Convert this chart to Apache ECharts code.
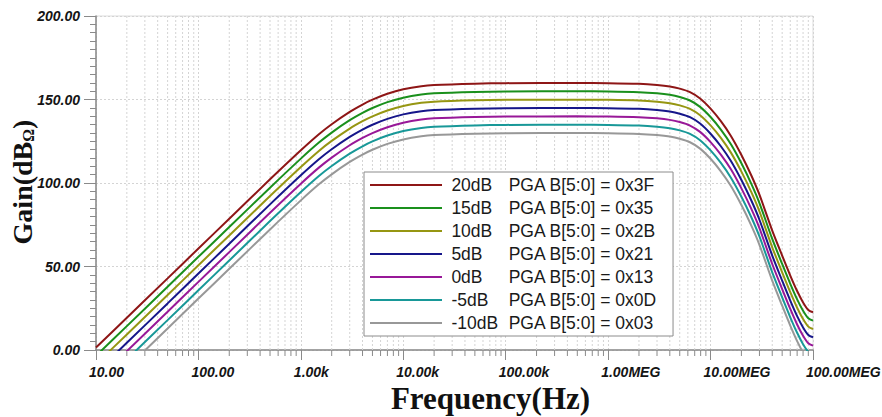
<!DOCTYPE html>
<html>
<head>
<meta charset="utf-8">
<script src="https://cdn.jsdelivr.net/npm/echarts@6/dist/echarts.min.js"></script>
<style>
  html, body { margin: 0; padding: 0; background: #ffffff; }
  #chart { width: 882px; height: 417px; }
</style>
</head>
<body>
<div id="chart"></div>
<script>
// Transimpedance gain vs. frequency for each PGA setting
const freqHz = [10, 20, 50, 100, 200, 500, 1000, 1500, 2000, 3000, 4000, 5000, 7000,
  10000, 15000, 20000, 50000, 100000, 500000, 1000000, 2000000, 3000000, 4000000,
  5000000, 6300000, 7900000, 10000000, 12600000, 15800000, 20000000, 25000000,
  30000000, 40000000, 50000000, 60000000, 70000000, 80000000, 90000000, 100000000];

const gain20dB = [1.5, 19.3, 42.9, 60.8, 78.6, 102.2, 119.6, 129.2, 135.2, 142.6, 147.0, 149.9, 153.4,
  156.1, 158.0, 158.7, 159.5, 159.8, 159.9, 159.8, 159.4, 158.7, 157.8,
  156.5, 154.4, 150.6, 144.5, 137.0, 128.2, 116.8, 104.5,
  93.0, 71.5, 56.5, 44.6, 35.3, 28.5, 24.0, 22.6];
const gain15dB = [-3.5, 14.3, 37.9, 55.8, 73.6, 97.2, 114.6, 124.2, 130.2, 137.6, 142.0, 144.9, 148.4,
  151.1, 153.0, 153.7, 154.5, 154.8, 154.9, 154.8, 154.4, 153.7, 152.8,
  151.5, 149.4, 145.6, 139.5, 132.0, 123.2, 111.8, 99.5,
  88.0, 66.5, 51.5, 39.6, 30.3, 23.5, 19.0, 17.6];
const gain10dB = [-8.5, 9.3, 32.9, 50.8, 68.6, 92.2, 109.6, 119.2, 125.2, 132.6, 137.0, 139.9, 143.4,
  146.1, 148.0, 148.7, 149.5, 149.8, 149.9, 149.8, 149.4, 148.7, 147.8,
  146.5, 144.4, 140.6, 134.5, 127.0, 118.2, 106.8, 94.5,
  83.0, 61.5, 46.5, 34.6, 25.3, 18.5, 14.0, 12.6];
const gain5dB = [-13.5, 4.3, 27.9, 45.8, 63.6, 87.2, 104.6, 114.2, 120.2, 127.6, 132.0, 134.9, 138.4,
  141.1, 143.0, 143.7, 144.5, 144.8, 144.9, 144.8, 144.4, 143.7, 142.8,
  141.5, 139.4, 135.6, 129.5, 122.0, 113.2, 101.8, 89.5,
  78.0, 56.5, 41.5, 29.6, 20.3, 13.5, 9.0, 7.6];
const gain0dB = [-18.5, -0.7, 22.9, 40.8, 58.6, 82.2, 99.6, 109.2, 115.2, 122.6, 127.0, 129.9, 133.4,
  136.1, 138.0, 138.7, 139.5, 139.8, 139.9, 139.8, 139.4, 138.7, 137.8,
  136.5, 134.4, 130.6, 124.5, 117.0, 108.2, 96.8, 84.5,
  73.0, 51.5, 36.5, 24.6, 15.3, 8.5, 4.0, 2.6];
const gainMinus5dB = [-23.5, -5.7, 17.9, 35.8, 53.6, 77.2, 94.6, 104.2, 110.2, 117.6, 122.0, 124.9, 128.4,
  131.1, 133.0, 133.7, 134.5, 134.8, 134.9, 134.8, 134.4, 133.7, 132.8,
  131.5, 129.4, 125.6, 119.5, 112.0, 103.2, 91.8, 79.5,
  68.0, 46.5, 31.5, 19.6, 10.3, 3.5, -1.0, -2.4];
const gainMinus10dB = [-28.5, -10.7, 12.9, 30.8, 48.6, 72.2, 89.6, 99.2, 105.2, 112.6, 117.0, 119.9, 123.4,
  126.1, 128.0, 128.7, 129.5, 129.8, 129.9, 129.8, 129.4, 128.7, 127.8,
  126.5, 124.4, 120.6, 114.5, 107.0, 98.2, 86.8, 74.5,
  63.0, 41.5, 26.5, 14.6, 5.3, -1.5, -6.0, -7.4];

const gainSteps = ['20dB', '15dB', '10dB', '5dB', '0dB', '-5dB', '-10dB'];
const pgaCodes = ['0x3F', '0x35', '0x2B', '0x21', '0x13', '0x0D', '0x03'];
const lineColors = ['#8e1616', '#1a901c', '#969612', '#16168a', '#981898', '#189898', '#989898'];

const decadeTicks = [10, 100, 1e3, 1e4, 1e5, 1e6, 1e7, 1e8];
const decadeLabels = ['10.00', '100.00', '1.00k', '10.00k', '100.00k', '1.00MEG', '10.00MEG', '100.00MEG'];
const yTickLabels = ['0.00', '50.00', '100.00', '150.00', '200.00'];

// 2..9 subdivisions inside every decade
const minorTicks = [];
decadeTicks.slice(0, -1).forEach(d => {
  for (let m = 2; m <= 9; m++) minorTicks.push(m * d);
});

const curves = [gain20dB, gain15dB, gain10dB, gain5dB, gain0dB, gainMinus5dB, gainMinus10dB];
const seriesNames = curves.map((_, i) => gainSteps[i] + ' PGA B[5:0] = ' + pgaCodes[i]);

const axisGray = '#8a8a8a';
const gridGray = '#d4d4d4';
const tickFont = 'italic bold 14px "Liberation Sans", Arial, sans-serif';
const serifFamily = '"Liberation Serif", "Times New Roman", serif';

const lineSeries = curves.map((g, i) => ({
  name: seriesNames[i],
  type: 'line',
  data: freqHz.map((f, j) => [f, g[j]]),
  showSymbol: false,
  smooth: 0.25,
  clip: true,
  z: 3,
  lineStyle: { width: 2, color: lineColors[i] },
  itemStyle: { color: lineColors[i] }
}));

// Minor (2..9) vertical grid lines and their short ticks below the axis
const minorGridSeries = {
  type: 'custom',
  silent: true,
  clip: false,
  z: 1,
  data: minorTicks.map(f => [f, 0]),
  encode: { x: 0, y: 1 },
  renderItem(params, api) {
    const base = api.coord([api.value(0), 0]);
    const top = api.coord([api.value(0), 200]);
    return {
      type: 'group',
      children: [
        { type: 'line', shape: { x1: base[0], y1: top[1], x2: base[0], y2: base[1] },
          style: { stroke: gridGray, lineWidth: 1, lineDash: [2, 2] } },
        { type: 'line', shape: { x1: base[0], y1: base[1], x2: base[0], y2: base[1] + 6 },
          style: { stroke: axisGray, lineWidth: 1 } }
      ]
    };
  }
};

// Decade labels, set slightly left of their tick
const decadeLabelSeries = {
  type: 'custom',
  silent: true,
  clip: false,
  z: 5,
  data: decadeTicks.map((f, i) => [f, 0, i]),
  encode: { x: 0, y: 1 },
  renderItem(params, api) {
    const p = api.coord([api.value(0), 0]);
    return {
      type: 'text',
      x: p[0] - 7,
      y: p[1] + 21.5,
      style: {
        text: decadeLabels[api.value(2)],
        font: tickFont,
        fill: '#141414',
        align: 'left',
        verticalAlign: 'middle'
      }
    };
  }
};

const chart = echarts.init(document.getElementById('chart'), null, { renderer: 'svg' });
chart.setOption({
  animation: false,
  backgroundColor: '#ffffff',
  grid: {
    left: 96, right: 69, top: 16, bottom: 67,
    containLabel: false,
    outerBoundsMode: 'none',
    show: true, borderColor: '#dcdcdc', borderWidth: 1, backgroundColor: 'transparent'
  },
  xAxis: {
    type: 'log',
    logBase: 10,
    min: 10,
    max: 1e8,
    axisLine: { lineStyle: { color: axisGray, width: 1.5 } },
    axisTick: { show: true, length: 10, lineStyle: { color: axisGray, width: 1 } },
    axisLabel: { show: false },
    splitLine: { show: true, lineStyle: { color: gridGray, width: 1, type: [2, 2] } },
    name: 'Frequency(Hz)',
    nameLocation: 'middle',
    nameGap: 33,
    nameMoveOverlap: false,
    nameTextStyle: {
      fontFamily: serifFamily,
      fontWeight: 'bold',
      fontSize: 31,
      color: '#111111',
      padding: [0, 0, 0, 72]
    }
  },
  yAxis: {
    type: 'value',
    min: 0,
    max: 200,
    interval: 50,
    axisLine: { show: true, lineStyle: { color: axisGray, width: 1.5 } },
    axisTick: { show: true, length: 12, lineStyle: { color: axisGray, width: 1 } },
    minorTick: { show: true, splitNumber: 10, length: 6, lineStyle: { color: axisGray, width: 1 } },
    axisLabel: {
      margin: 16,
      formatter: v => yTickLabels[Math.round(v / 50)],
      fontFamily: '"Liberation Sans", Arial, sans-serif',
      fontStyle: 'italic',
      fontWeight: 'bold',
      fontSize: 14,
      color: '#141414'
    },
    splitLine: { show: true, lineStyle: { color: gridGray, width: 1, type: [2, 2] } },
    name: '{m|Gain(dB}{s|Ω}{m|)}',
    nameLocation: 'middle',
    nameRotate: 90,
    nameGap: 60,
    nameMoveOverlap: false,
    nameTextStyle: {
      padding: [0, 0, 0, 2],
      rich: {
        m: { fontFamily: serifFamily, fontWeight: 'bold', fontSize: 28, lineHeight: 28, color: '#111111' },
        s: { fontFamily: serifFamily, fontWeight: 'bold', fontSize: 16, lineHeight: 16,
             verticalAlign: 'bottom', color: '#111111' }
      }
    }
  },
  legend: {
    orient: 'vertical',
    left: 364,
    top: 172,
    padding: [3, 16, 3, 6],
    itemGap: 3,
    itemWidth: 72,
    itemHeight: 2,
    icon: 'rect',
    backgroundColor: '#ffffff',
    borderColor: '#8c8c8c',
    borderWidth: 1,
    borderRadius: 0,
    selectedMode: false,
    data: seriesNames,
    formatter: name => {
      const k = name.indexOf(' ');
      return '{a|' + name.slice(0, k) + '}{b|' + name.slice(k + 1) + '}';
    },
    textStyle: {
      fontFamily: '"Liberation Sans", Arial, sans-serif',
      fontSize: 17.5,
      lineHeight: 20,
      color: '#1a1a1a',
      rich: {
        a: { fontFamily: '"Liberation Sans", Arial, sans-serif', fontSize: 17.5, lineHeight: 20,
             color: '#1a1a1a', width: 57.3, padding: [0, 0, 0, 4.4] },
        b: { fontFamily: '"Liberation Sans", Arial, sans-serif', fontSize: 17.5, lineHeight: 20,
             color: '#1a1a1a' }
      }
    }
  },
  series: [minorGridSeries, ...lineSeries, decadeLabelSeries]
});
</script>
</body>
</html>
